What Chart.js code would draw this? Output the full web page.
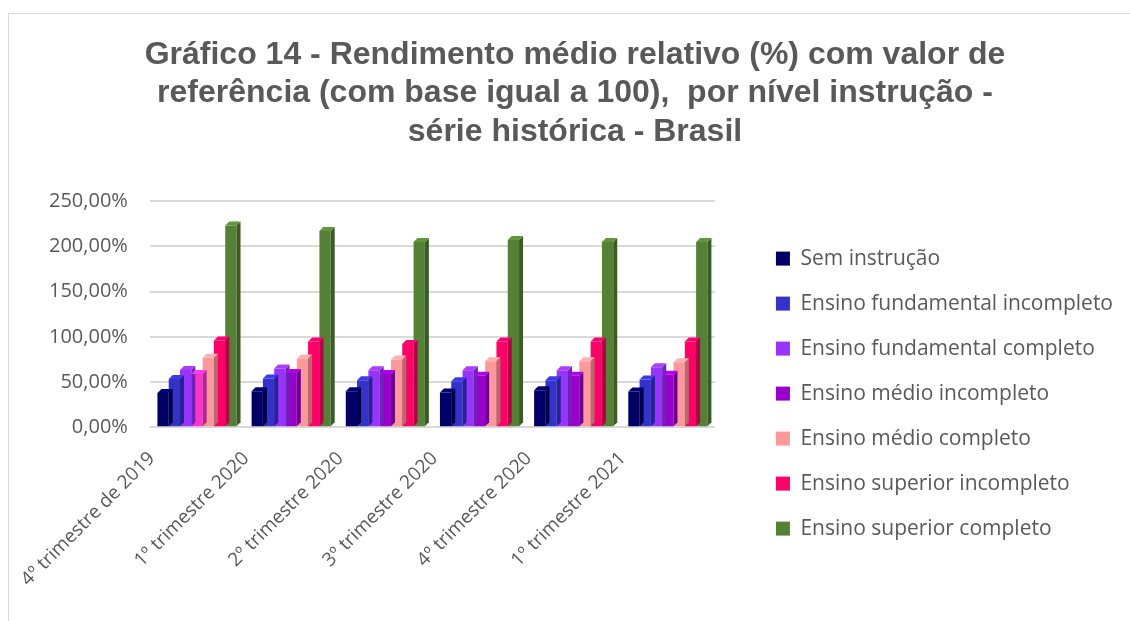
<!DOCTYPE html>
<html>
<head>
<meta charset="utf-8">
<script src="https://cdn.jsdelivr.net/npm/chart.js@4.4.0/dist/chart.umd.min.js"></script>
<style>
  html, body { margin: 0; padding: 0; background: #fff; }
  #wrap { position: relative; width: 1130px; height: 621px; }
  #frame { position: absolute; left: 8px; top: 13px; right: 0; bottom: 0; border-left: 1px solid #d9d9d9; border-top: 1px solid #d9d9d9; pointer-events: none; }
</style>
</head>
<body>
<div id="wrap">
  <canvas id="myChart" width="1130" height="621"></canvas>
  <div id="frame"></div>
</div>
<script>
// dados do gráfico
const trimestres = ["4º trimestre de 2019", "1º trimestre 2020", "2º trimestre 2020", "3º trimestre 2020", "4º trimestre 2020", "1º trimestre 2021"];
const semInstrucao = [38, 40, 40, 38.5, 41, 39.5];
const fundIncompleto = [53.5, 54, 52, 51, 52, 53];
const fundCompleto = [63.5, 65, 63, 63, 63, 66.5];
const medioIncompleto = [59, 60, 59, 57, 57, 58];
const medioCompleto = [77, 76, 75, 73, 73, 72];
const superiorIncompleto = [96, 95, 92, 95, 95, 95];
const superiorCompleto = [223, 217, 205, 207, 205, 205];
const yTicks = [0, 50, 100, 150, 200, 250];

const cinza = "#595959";

// barras com efeito 3d (lado e topo)
function tom(hex, f) {
  let r = parseInt(hex.substr(1, 2), 16), g = parseInt(hex.substr(3, 2), 16), b = parseInt(hex.substr(5, 2), 16);
  r = Math.round(Math.min(255, r * f)); g = Math.round(Math.min(255, g * f)); b = Math.round(Math.min(255, b * f));
  return "rgb(" + r + "," + g + "," + b + ")";
}

const barras3d = {
  id: "barras3d",
  afterDatasetsDraw(chart) {
    const ctx = chart.ctx;
    const d = 4;
    chart.data.datasets.forEach(function(ds, i) {
      const meta = chart.getDatasetMeta(i);
      meta.data.forEach(function(bar, j) {
        const cor = Array.isArray(ds.backgroundColor) ? ds.backgroundColor[j] : ds.backgroundColor;
        const x1 = bar.x - bar.width / 2, x2 = bar.x + bar.width / 2;
        const top = bar.y, base = bar.base;
        ctx.save();
        // lado direito
        ctx.fillStyle = tom(cor, 0.7);
        ctx.beginPath();
        ctx.moveTo(x2, top); ctx.lineTo(x2 + d, top - d); ctx.lineTo(x2 + d, base - d); ctx.lineTo(x2, base);
        ctx.closePath(); ctx.fill();
        // topo
        ctx.fillStyle = tom(cor, 1.15);
        ctx.beginPath();
        ctx.moveTo(x1, top); ctx.lineTo(x1 + d, top - d); ctx.lineTo(x2 + d, top - d); ctx.lineTo(x2, top);
        ctx.closePath(); ctx.fill();
        ctx.restore();
      });
    });
  }
};

const ctx = document.getElementById("myChart");

new Chart(ctx, {
  type: "bar",
  data: {
    labels: trimestres,
    datasets: [
      { label: "Sem instrução", data: semInstrucao, backgroundColor: "#000066" },
      { label: "Ensino fundamental incompleto", data: fundIncompleto, backgroundColor: "#3333CC" },
      { label: "Ensino fundamental completo", data: fundCompleto, backgroundColor: "#9933FF" },
      { label: "Ensino médio incompleto", data: medioIncompleto, backgroundColor: ["#FF33CC", "#9900CC", "#9900CC", "#9900CC", "#9900CC", "#9900CC"] },
      { label: "Ensino médio completo", data: medioCompleto, backgroundColor: "#FF9999" },
      { label: "Ensino superior incompleto", data: superiorIncompleto, backgroundColor: "#FF0066" },
      { label: "Ensino superior completo", data: superiorCompleto, backgroundColor: "#548235" }
    ]
  },
  options: {
    responsive: false,
    animation: false,
    layout: { padding: { left: 27, right: 7, top: 0, bottom: 18 } },
    datasets: { bar: { barPercentage: 1, categoryPercentage: 0.84 } },
    plugins: {
      title: {
        display: true,
        text: ["Gráfico 14 - Rendimento médio relativo (%) com valor de", "referência (com base igual a 100),  por nível instrução -", "série histórica - Brasil"],
        color: cinza,
        font: { family: "'Liberation Sans', Arial, sans-serif", size: 32, weight: "bold" },
        lineHeight: 1.2,
        padding: { top: 36, bottom: 50 }
      },
      legend: {
        position: "right",
        maxWidth: 400,
        title: { display: true, text: "", font: { size: 1 }, padding: { top: 183, bottom: 0 } },
        labels: {
          color: cinza,
          font: { family: "'Open Sans', sans-serif", size: 21 },
          boxWidth: 14,
          boxHeight: 14,
          padding: 24,
          generateLabels: function(chart) {
            return chart.data.datasets.map(function(ds, i) {
              const cor = Array.isArray(ds.backgroundColor) ? ds.backgroundColor[1] : ds.backgroundColor;
              return { text: ds.label, fillStyle: cor, strokeStyle: cor, lineWidth: 0, fontColor: cinza, datasetIndex: i };
            });
          }
        }
      },
      tooltip: { enabled: false }
    },
    scales: {
      x: {
        grid: { display: false },
        border: { color: "#d9d9d9" },
        ticks: {
          color: cinza,
          font: { family: "'Open Sans', sans-serif", size: 19 },
          maxRotation: 45,
          minRotation: 45,
          padding: 12,
          labelOffset: -45
        }
      },
      y: {
        min: 0,
        max: 250,
        afterBuildTicks: function(axis) {
          axis.ticks = yTicks.map(function(v) { return { value: v }; });
        },
        grid: { color: "#d9d9d9", lineWidth: 2, drawTicks: false },
        border: { display: false },
        ticks: {
          color: cinza,
          font: { family: "'Open Sans', sans-serif", size: 20 },
          padding: 22,
          callback: function(v) { return v.toFixed(2).replace(".", ",") + "%"; }
        }
      },
      // espaço entre o gráfico e a legenda
      espaco: {
        position: "right",
        display: true,
        grid: { display: false, drawTicks: false },
        border: { display: false },
        ticks: { display: false },
        afterFit: function(axis) { axis.width = 37; }
      }
    }
  },
  plugins: [barras3d]
});
</script>
</body>
</html>
